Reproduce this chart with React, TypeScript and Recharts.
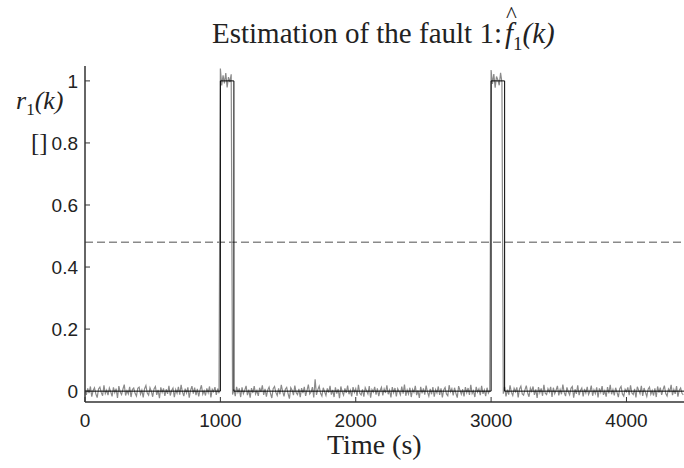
import { LineChart, Line, XAxis, YAxis, ReferenceLine } from 'recharts';

// residual r1(k), sampled every 10 s, in thousandths
const SAMPLE_STEP = 10;
const residual = [
  4, -12, 9, -6, 15, -18, 2, 11, -9, -21, 7, 13, -4, -15, 19, -8, 3, -13, 10, -2,
  -17, 12, -5, 8, -22, 16, -3, -11, 6, 21, -14, 1, -9, 14, -19, 5, 10, -7, -16, 9,
  13, -10, 3, -20, 8, 18, -6, -13, 11, -1, -18, 7, 15, -12, 4, -23, 12, -4, 9, -15,
  6, -9, 17, -14, 2, 10, -19, 5, -7, 14, -11, 20, -3, -16, 8, -6, 12, -21, 3, 16,
  -8, 11, -13, 7, -17, 4, 19, -10, 1, -14, 9, -5, 15, -20, 6, -2, 13, -12, 8, -7,
  1040, 985, 1018, 992, 1025, 979, 1012, 996, 1021, -11, 6, -16, 14, -4, 9, -19, 12, -8, 3, 17,
  -13, 5, -21, 10, -6, 16, -9, 2, -15, 11, -3, 19, -12, 7, -18, 4, 13, -7, -22, 8,
  15, -4, -14, 9, -10, 20, -1, -17, 6, 12, -8, -24, 11, 3, -13, 18, -5, -11, 7, -19,
  10, -6, 14, -15, 2, 21, -9, -3, 13, -20, 38, -12, 5, 16, -7, -16, 11, -2, -14, 9,
  -5, 17, -11, 4, -19, 12, -8, 7, -23, 15, -2, -13, 9, -6, 18, -10, 3, -17, 13, -4,
  8, -15, 20, -7, -12, 6, -18, 11, 1, -9, 16, -21, 5, -3, 14, -11, 9, -16, 2, 12,
  -14, 7, -6, 19, -10, 3, -20, 13, -5, 10, -17, 8, -1, -12, 15, -8, 21, -15, 4, -9,
  11, -19, 6, -4, 17, -13, 2, -22, 14, -7, 9, -11, 18, -3, -16, 7, -10, 13, -18, 5,
  -6, 15, -12, 9, -20, 4, 12, -9, -15, 19, -2, 8, -14, 11, -7, -21, 16, 3, -10, 6,
  -17, 13, -5, 10, -12, 20, -8, 1, -19, 14, -3, 7, -13, 17, -9, 4, -16, 11, -6, 2,
  1035, 990, 1022, 978, 1014, 1003, 986, 1026, 995, -8, 14, -17, 5, -11, 19, -4, -14, 9, -2, 12,
  -20, 7, 16, -9, -13, 4, 18, -6, -18, 10, -1, 15, -12, 6, -22, 13, -5, 9, -15, 20,
  -7, -11, 8, -3, 14, -19, 11, -8, 3, 17, -14, 5, -10, 21, -4, -16, 12, -2, -12, 9,
  15, -21, 6, -9, 19, -13, 2, 10, -17, 7, -6, 14, -11, -1, 18, -15, 4, -8, 12, -20,
  9, -4, 16, -12, 1, -18, 13, -7, 20, -10, 5, -14, 11, -3, -19, 8, 15, -9, -16, 6,
  -2, 12, -13, 19, -6, -11, 7, -20, 14, 3, -8, 17, -15, 10, -4, -17, 6, 13, -10, 2,
  -14, 9, -19, 15, -5, 11, -12, 4, 18, -8, -16, 7, -1, 20, -13, 5, -9, 16, -18, 3,
  10, -7, -12,
];

// true fault f1(k): step profile
const faultTimes = [0, 1000, 1000, 1100, 1100, 3000, 3000, 3100, 3100, 4425];
const faultValues = [0, 0, 1, 1, 0, 0, 1, 1, 0, 0];

const threshold = 0.48;
const xTicks = [0, 1000, 2000, 3000, 4000];
const yTicks = [0, 0.2, 0.4, 0.6, 0.8, 1];

const residualData = residual.map((v, i) => ({ t: i * SAMPLE_STEP, r: v / 1000 }));
const faultData = faultTimes.map((t, i) => ({ t, f: faultValues[i] }));

const serif = '"Liberation Serif", "Times New Roman", serif';
const sans = '"Liberation Sans", Arial, sans-serif';
const axisLine = { stroke: '#333', strokeWidth: 1.5 };
const tickLine = { stroke: '#333', strokeWidth: 1 };
const tickStyle = { fill: '#222', fontSize: 19, fontFamily: sans };

export default function App() {
  return (
    <div style={{ position: 'absolute', left: 0, top: 0, width: 684, height: 468, background: '#fff' }}>
      <LineChart
        width={684}
        height={468}
        margin={{ top: 66, right: 0, bottom: 0, left: 0 }}
      >
        <XAxis
          xAxisId="bottom"
          dataKey="t"
          type="number"
          domain={[0, 4425]}
          ticks={xTicks}
          allowDataOverflow
          height={66}
          axisLine={axisLine}
          tickLine={tickLine}
          tickSize={-5}
          tickMargin={17}
          tick={tickStyle}
        />
        <XAxis
          xAxisId="top"
          orientation="top"
          dataKey="t"
          type="number"
          domain={[0, 4425]}
          ticks={xTicks}
          allowDataOverflow
          height={0}
          axisLine={axisLine}
          tickLine={tickLine}
          tickSize={-5}
          tickFormatter={() => ''}
        />
        <YAxis
          type="number"
          domain={[-0.035, 1.048]}
          ticks={yTicks}
          allowDataOverflow
          width={85}
          axisLine={axisLine}
          tickLine={tickLine}
          tickSize={-5}
          tickMargin={12}
          tickFormatter={(v: number) => (v === 0 || v === 1 ? String(v) : v.toFixed(1))}
          tick={tickStyle}
        />
        <ReferenceLine
          xAxisId="bottom"
          y={threshold}
          stroke="#8a8a8a"
          strokeWidth={1.5}
          strokeDasharray="8 4"
        />
        <Line
          xAxisId="bottom"
          data={residualData}
          dataKey="r"
          type="linear"
          stroke="#8a8a8a"
          strokeWidth={1.2}
          dot={false}
          isAnimationActive={false}
        />
        <Line
          xAxisId="bottom"
          data={faultData}
          dataKey="f"
          type="linear"
          stroke="#000"
          strokeWidth={1}
          dot={false}
          isAnimationActive={false}
        />
      </LineChart>

      {/* title */}
      <div
        style={{
          position: 'absolute',
          left: 212,
          top: 17,
          fontFamily: serif,
          fontSize: 29,
          lineHeight: '32px',
          color: '#222',
          whiteSpace: 'nowrap',
        }}
      >
        Estimation of the fault 1:
        <span style={{ position: 'relative', fontStyle: 'italic', marginLeft: 3 }}>
          <span
            style={{
              position: 'absolute',
              left: 1,
              top: -14,
              fontStyle: 'normal',
              fontSize: 23,
              lineHeight: '23px',
            }}
          >
            ^
          </span>
          f
        </span>
        <sub style={{ fontSize: 19, lineHeight: 0 }}>1</sub>
        <span style={{ fontStyle: 'italic' }}>(k)</span>
      </div>

      {/* y label */}
      <div
        style={{
          position: 'absolute',
          left: 16,
          top: 86,
          fontFamily: serif,
          fontSize: 26,
          color: '#222',
          whiteSpace: 'nowrap',
        }}
      >
        <span style={{ fontStyle: 'italic' }}>r</span>
        <sub style={{ fontSize: 17 }}>1</sub>
        <span style={{ fontStyle: 'italic' }}>(k)</span>
      </div>
      <div
        style={{
          position: 'absolute',
          left: 31,
          top: 129,
          fontFamily: serif,
          fontSize: 25,
          color: '#222',
        }}
      >
        []
      </div>

      {/* x label */}
      <div
        style={{
          position: 'absolute',
          left: 327,
          top: 431,
          fontFamily: serif,
          fontSize: 28,
          lineHeight: '28px',
          color: '#222',
          whiteSpace: 'nowrap',
        }}
      >
        Time (s)
      </div>
    </div>
  );
}
